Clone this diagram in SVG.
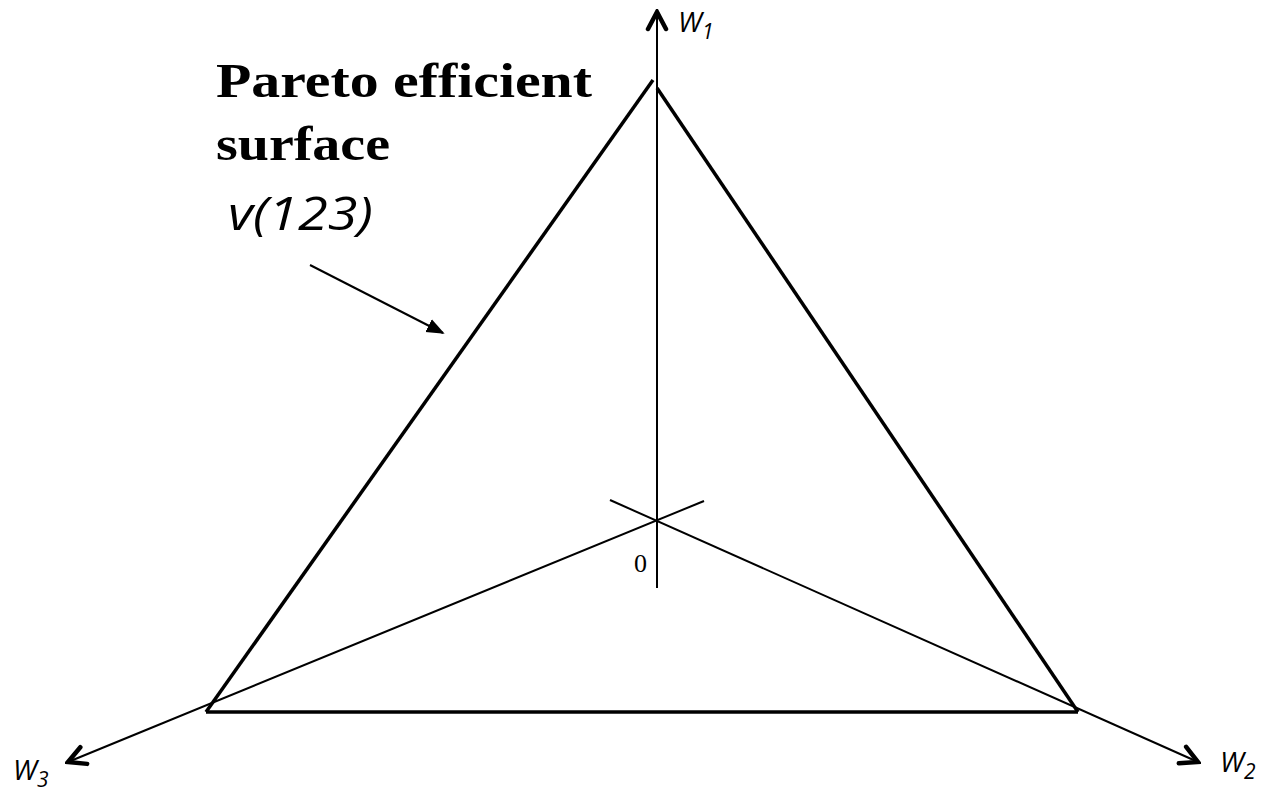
<svg xmlns="http://www.w3.org/2000/svg" width="1267" height="794" viewBox="0 0 1267 794">
<style>
.axis{stroke:#000;stroke-width:2;fill:none}
.tri{stroke:#000;stroke-width:3.5;fill:none}
.lbl{font-family:"Open Sans","Noto Sans",sans-serif;font-style:italic;fill:#000}
.title{font-family:"Liberation Serif","DejaVu Serif",serif;font-weight:bold;font-size:48px;fill:#000}
</style>
<defs>
<marker id="chev" viewBox="0 0 24 24" refX="21" refY="12" markerWidth="24" markerHeight="24" markerUnits="userSpaceOnUse" orient="auto">
<path d="M4,3 L21,12 L4,21" fill="none" stroke="#000" stroke-width="4.5" stroke-linecap="round" stroke-linejoin="miter"/>
</marker>
<marker id="tri" viewBox="0 0 20 20" refX="18" refY="10" markerWidth="18" markerHeight="18" markerUnits="userSpaceOnUse" orient="auto">
<path d="M0,2 L20,10 L0,18 Z" fill="#000"/>
</marker>
</defs>
<g id="connectors">
<line class="axis" x1="657" y1="588" x2="657" y2="12" marker-end="url(#chev)"/>
<line class="axis" x1="610" y1="500" x2="1198" y2="762" marker-end="url(#chev)"/>
<line class="axis" x1="704" y1="501" x2="68" y2="762" marker-end="url(#chev)"/>
<line x1="310" y1="265" x2="443" y2="333" stroke="#000" stroke-width="2" marker-end="url(#tri)"/>
</g>
<g id="triangle">
<line class="tri" x1="206" y1="712" x2="653" y2="80"/>
<line class="tri" x1="657" y1="88" x2="1078" y2="712"/>
<line class="tri" x1="206" y1="712" x2="1078" y2="712"/>
</g>
<g id="labels">
<text class="title" x="216" y="97" textLength="376" lengthAdjust="spacingAndGlyphs">Pareto  efficient</text>
<text class="title" x="216" y="160" textLength="174" lengthAdjust="spacingAndGlyphs">surface</text>
<text class="lbl" x="228" y="230" font-size="46" textLength="145" lengthAdjust="spacingAndGlyphs">v(123)</text>
<text x="634" y="572" font-family="Liberation Serif,serif" font-size="26">0</text>
<text class="lbl" x="678" y="32" font-size="28">W<tspan font-size="21" dy="7">1</tspan></text>
<text class="lbl" x="1220" y="772" font-size="28">W<tspan font-size="21" dy="7">2</tspan></text>
<text class="lbl" x="13" y="780" font-size="28">W<tspan font-size="21" dy="7">3</tspan></text>
</g>
</svg>
